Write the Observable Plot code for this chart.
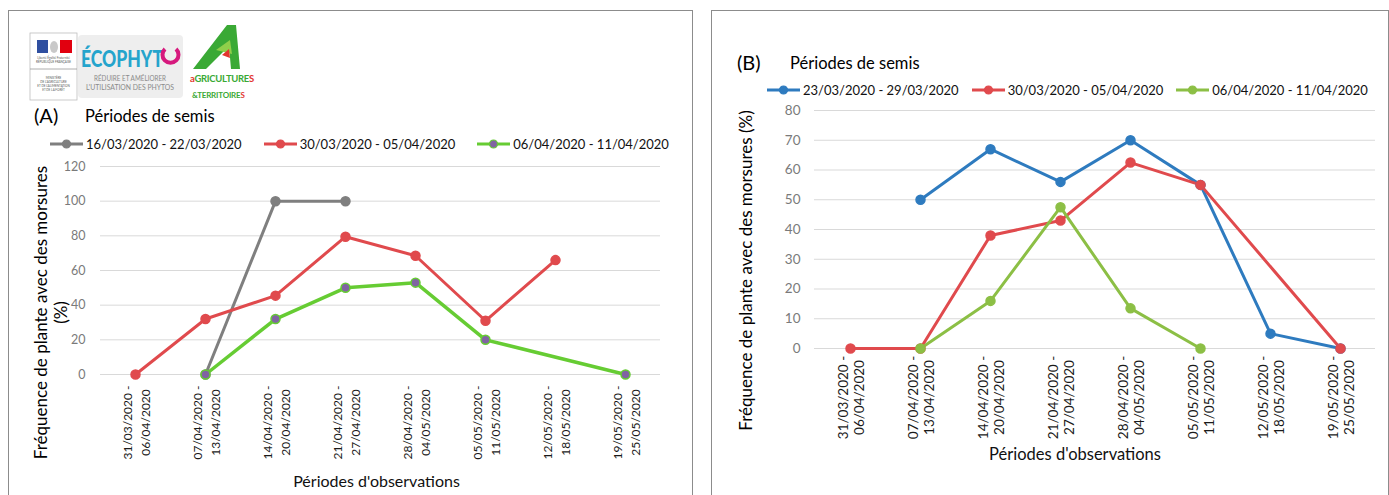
<!DOCTYPE html>
<html><head><meta charset="utf-8">
<script src="https://cdn.jsdelivr.net/npm/d3@7"></script>
<script src="https://cdn.jsdelivr.net/npm/@observablehq/plot@0.6"></script>
<style>
html,body{margin:0;padding:0;background:#fff;}
body{width:1389px;height:495px;position:relative;overflow:hidden;font-family:Lato,"Open Sans",sans-serif;color:#000;}
.panel{position:absolute;border:1px solid #8c8c8c;box-sizing:border-box;}
.abs{position:absolute;white-space:nowrap;}
.legend{position:absolute;display:flex;align-items:center;white-space:nowrap;font-size:13px;color:#111;}
.legend .item{display:flex;align-items:center;}
.legend svg{display:block;margin-right:3px;}
</style></head><body>
<div class="panel" style="left:8px;top:10px;width:685px;height:500px"></div>
<div class="panel" style="left:711px;top:10px;width:678px;height:500px"></div>

<svg class="abs" style="left:28px;top:22px" width="235" height="82" viewBox="0 0 235 82">
  <rect x="2" y="11" width="47" height="67" fill="#fff" stroke="#bdbdbd" stroke-width="0.8"/>
  <line x1="2" y1="47" x2="49" y2="47" stroke="#9a9a9a" stroke-width="0.8"/>
  <rect x="9" y="18" width="11" height="13" fill="#2f4fa0"/>
  <rect x="32" y="18" width="12" height="13" fill="#e1000f"/>
  <ellipse cx="26" cy="25" rx="4" ry="6" fill="#c9c9c9"/>
  <text x="25.5" y="37" font-size="3" text-anchor="middle" fill="#555">Liberté Égalité Fraternité</text>
  <text x="25.5" y="41" font-size="3" text-anchor="middle" fill="#555">RÉPUBLIQUE FRANÇAISE</text>
  <text x="25.5" y="57" font-size="3" text-anchor="middle" fill="#555">MINISTÈRE</text>
  <text x="25.5" y="61" font-size="3" text-anchor="middle" fill="#555">DE L'AGRICULTURE</text>
  <text x="25.5" y="65" font-size="3" text-anchor="middle" fill="#555">ET DE L'ALIMENTATION</text>
  <text x="25.5" y="69" font-size="3" text-anchor="middle" fill="#555">ET DE LA FORÊT</text>
  <rect x="50" y="13" width="105" height="63" rx="4" fill="#eeeeee"/>
  <text x="53" y="45" font-size="23" font-weight="900" fill="#25a4cc" textLength="82" lengthAdjust="spacingAndGlyphs">ÉCOPHYT</text>
  <path d="M 137 27 A 8 8 0 1 0 148 27" fill="none" stroke="#d6197d" stroke-width="4"/>
  <text x="102" y="59" font-size="7.5" text-anchor="middle" fill="#8a8a8a" textLength="72" lengthAdjust="spacingAndGlyphs">RÉDUIRE ET AMÉLIORER</text>
  <text x="102" y="68" font-size="7.5" text-anchor="middle" fill="#8a8a8a" textLength="88" lengthAdjust="spacingAndGlyphs">L'UTILISATION DES PHYTOS</text>
  <polygon points="165,47 199,3 208,3 212,47 203,47 201,24 178,47" fill="#3aa935"/>
  <polygon points="188,28 202,18 204,32 196,30" fill="#8fcf4a"/>
  <polygon points="194,33 201,27 202,36" fill="#e3342f"/>
  <text x="162" y="60" font-size="9.5" font-weight="bold" fill="#3aa935" letter-spacing="-0.3"><tspan fill="#e3342f">a</tspan>GRICULTURE<tspan fill="#e3342f">S</tspan></text>
  <text x="164" y="76" font-size="8" font-weight="bold" fill="#3aa935" letter-spacing="-0.2">&amp;TERRITOIRE<tspan fill="#e3342f">S</tspan></text>
</svg>

<div class="abs" style="left:34px;top:103px;font-size:20px;">(A)</div>
<div class="abs" style="left:85px;top:106px;font-size:16.5px;">Périodes de semis</div>
<div class="abs" style="left:737px;top:50px;font-size:20px;">(B)</div>
<div class="abs" style="left:790px;top:53px;font-size:16.5px;">Périodes de semis</div>

<div id="legA" class="legend" style="left:50px;top:136px;gap:22px"></div>
<div id="legB" class="legend" style="left:767px;top:82px;gap:13px"></div>

<div id="chartA" class="abs" style="left:8px;top:10px"></div>
<div id="chartB" class="abs" style="left:712px;top:10px"></div>

<script>
// ---- data ----
const periodStarts = ["31/03/2020","07/04/2020","14/04/2020","21/04/2020","28/04/2020","05/05/2020","12/05/2020","19/05/2020"];
const periodEnds   = ["06/04/2020","13/04/2020","20/04/2020","27/04/2020","04/05/2020","11/05/2020","18/05/2020","25/05/2020"];

const seriesA = ["16/03/2020 - 22/03/2020","30/03/2020 - 05/04/2020","06/04/2020 - 11/04/2020"];
const valuesA1 = [null, 0, 100, 100, null, null, null, null];
const valuesA2 = [0, 32, 45.5, 79.5, 68.5, 31, 66, null];
const valuesA3 = [null, 0, 32, 50, 53, 20, null, 0];
const ticksA = [0, 20, 40, 60, 80, 100, 120];

const seriesB = ["23/03/2020 - 29/03/2020","30/03/2020 - 05/04/2020","06/04/2020 - 11/04/2020"];
const valuesB1 = [null, 50, 67, 56, 70, 55, 5, 0];
const valuesB2 = [0, 0, 38, 43, 62.5, 55, null, 0];
const valuesB3 = [null, 0, 16, 47.5, 13.5, 0, null, null];
const ticksB = [0, 10, 20, 30, 40, 50, 60, 70, 80];

const yTitle = "Fréquence de plante avec des morsures";
const xTitle = "Périodes d'observations";

// ---- styles ----
const colorsA = ["#7f7f7f", "#e04a4d", "#66cc33"];
const fillsA  = ["#7f7f7f", "#e04a4d", "#8064a2"];
const colorsB = ["#2e7bbf", "#e04a4d", "#8cbf45"];
const fillsB  = colorsB;

const labels = periodStarts.map((s, i) => s + " -\n" + periodEnds[i]);

function rowsOf(series, values) {
  return series.map((s, i) => values[i].map((v, j) => ({series: s, period: labels[j], value: v})).filter(d => d.value != null));
}

function makeChart(o) {
  const perSeries = rowsOf(o.series, o.values);
  const marks = [
    Plot.gridY(o.ticks, {stroke: "#d9d9d9", strokeOpacity: 1, strokeWidth: 1}),
    Plot.axisY(o.ticks, {tickSize: 0, tickPadding: o.tickPad, fill: "#7a7a7a", fontSize: o.yTickSize, label: null}),
    Plot.text(labels, {x: d => d, text: d => d, frameAnchor: "bottom", rotate: -90, textAnchor: "middle",
      lineAnchor: "middle", lineHeight: o.xLineHeight, dy: o.xTickDy, fontSize: o.xTickSize, fill: "#1a1a1a"}),
    Plot.text([o.yTitle], {frameAnchor: "left", rotate: -90, textAnchor: "middle", lineAnchor: "middle",
      lineHeight: 1.15, dx: o.yTitleDx, dy: o.yTitleDy, fontSize: o.yTitleSize, fill: "#000"}),
    Plot.text([xTitle], {frameAnchor: "bottom", textAnchor: "middle", lineAnchor: "middle",
      dx: o.xTitleDx, dy: o.xTitleDy, fontSize: o.xTitleSize, fill: "#111"})
  ];
  perSeries.forEach((rows, i) => {
    marks.push(Plot.line(rows, {x: "period", y: "value", stroke: o.colors[i], strokeWidth: o.lineWidth[i], curve: "linear"}));
  });
  perSeries.forEach((rows, i) => {
    marks.push(Plot.dot(rows, {x: "period", y: "value", r: 4.5, fill: o.fills[i], stroke: o.colors[i], strokeWidth: 1.5}));
  });
  return Plot.plot({
    width: o.width, height: o.height,
    marginLeft: o.ml, marginRight: o.mr, marginTop: o.mt, marginBottom: o.mb,
    style: {fontFamily: "Lato, 'Open Sans', sans-serif", background: "transparent", overflow: "visible"},
    x: {type: "point", domain: labels, padding: 0.5, axis: null},
    y: {domain: [o.ticks[0], o.ticks[o.ticks.length - 1]], axis: null},
    marks
  });
}

document.getElementById("chartA").appendChild(makeChart({
  series: seriesA, values: [valuesA1, valuesA2, valuesA3], ticks: ticksA,
  colors: colorsA, fills: fillsA, lineWidth: [3, 3, 3.5],
  width: 684, height: 485, ml: 92, mr: 32, mt: 156, mb: 121,
  tickPad: 15, yTickSize: 12.5, xTickSize: 12, xTickDy: 48, xLineHeight: 1.5,
  yTitle: yTitle + "\n(%)", yTitleDx: -50, yTitleDy: 42, yTitleSize: 17,
  xTitleDx: -4, xTitleDy: 107, xTitleSize: 16
}));

document.getElementById("chartB").appendChild(makeChart({
  series: seriesB, values: [valuesB1, valuesB2, valuesB3], ticks: ticksB,
  colors: colorsB, fills: fillsB, lineWidth: [3, 3, 3],
  width: 676, height: 485, ml: 102, mr: 13, mt: 100, mb: 147,
  tickPad: 14, yTickSize: 13.5, xTickSize: 13.5, xTickDy: 49, xLineHeight: 1.2,
  yTitle: yTitle + " (%)", yTitleDx: -69, yTitleDy: 41, yTitleSize: 17,
  xTitleDx: -20, xTitleDy: 106, xTitleSize: 16.5
}));

function legend(id, names, colors, fills) {
  const el = document.getElementById(id);
  names.forEach((n, i) => {
    const item = document.createElement("div");
    item.className = "item";
    item.innerHTML = `<svg width="33" height="12"><line x1="0" y1="6" x2="33" y2="6" stroke="${colors[i]}" stroke-width="3"/><circle cx="16.5" cy="6" r="4" fill="${fills[i]}" stroke="${colors[i]}" stroke-width="1.2"/></svg><span>${n}</span>`;
    el.appendChild(item);
  });
}
legend("legA", seriesA, colorsA, fillsA);
legend("legB", seriesB, colorsB, fillsB);
</script>
</body></html>
